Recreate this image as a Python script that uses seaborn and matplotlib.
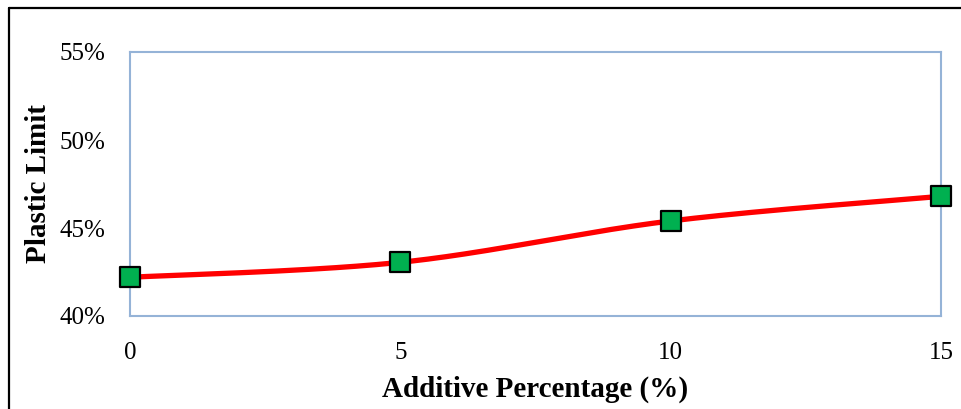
import numpy as np
import pandas as pd
import matplotlib
matplotlib.use("Agg")
import matplotlib.pyplot as plt
import seaborn as sns
from matplotlib.lines import Line2D

# Data
additive_pct = [0, 5, 10, 15]
plastic_limit = [0.422, 0.4305, 0.454, 0.468]
x_ticks = [0, 5, 10, 15]
y_ticks = [0.40, 0.45, 0.50, 0.55]
y_tick_labels = ["40%", "45%", "50%", "55%"]

sns.set_theme(style="white")
plt.rcParams["font.family"] = ["Liberation Serif", "DejaVu Serif"]


def smooth_curve(xs, ys, n=60):
    """Cubic Bezier smoothing through the points (Catmull-Rom style)."""
    xs = np.asarray(xs, float)
    ys = np.asarray(ys, float)
    px = np.concatenate([[xs[0]], xs, [xs[-1]]])
    py = np.concatenate([[ys[0]], ys, [ys[-1]]])
    out_x, out_y = [], []
    t = np.linspace(0, 1, n)
    for i in range(1, len(px) - 2):
        p0 = np.array([px[i], py[i]])
        p3 = np.array([px[i + 1], py[i + 1]])
        c1 = p0 + (np.array([px[i + 1], py[i + 1]]) - np.array([px[i - 1], py[i - 1]])) / 6
        c2 = p3 - (np.array([px[i + 2], py[i + 2]]) - np.array([px[i], py[i]])) / 6
        b = ((1 - t) ** 3)[:, None] * p0 + (3 * (1 - t) ** 2 * t)[:, None] * c1 \
            + (3 * (1 - t) * t ** 2)[:, None] * c2 + (t ** 3)[:, None] * p3
        out_x.extend(b[:, 0])
        out_y.extend(b[:, 1])
    return np.array(out_x), np.array(out_y)


fig = plt.figure(figsize=(9.61, 4.09), dpi=100)
ax = fig.add_axes([130 / 961, 1 - 316 / 409, (941 - 130) / 961, (316 - 52) / 409])

cx, cy = smooth_curve(additive_pct, plastic_limit)
curve = pd.DataFrame({"x": cx, "y": cy})
sns.lineplot(data=curve, x="x", y="y", ax=ax, color="#FF0000", linewidth=3.8,
             sort=False, estimator=None, zorder=2)

pts = pd.DataFrame({"x": additive_pct, "y": plastic_limit})
sns.scatterplot(data=pts, x="x", y="y", ax=ax, marker="s", s=210,
                color="#00B050", edgecolor="black", linewidth=1.6, zorder=3,
                clip_on=False)

ax.set_xlim(0, 15)
ax.set_ylim(0.40, 0.55)
ax.set_xticks(x_ticks)
ax.set_xticklabels([str(v) for v in x_ticks])
ax.set_yticks(y_ticks)
ax.set_yticklabels(y_tick_labels)
ax.tick_params(axis="both", length=0, labelsize=18, colors="black")
ax.tick_params(axis="x", pad=19)
ax.tick_params(axis="y", pad=18)

for spine in ax.spines.values():
    spine.set_visible(True)
    spine.set_color("#95B3D7")
    spine.set_linewidth(1.5)

ax.set_xlabel("Additive Percentage (%)", fontsize=21, fontweight="bold",
              labelpad=8, color="black")
ax.set_ylabel("Plastic Limit", fontsize=21, fontweight="bold",
              labelpad=5, color="black")
ax.grid(False)

# Outer frame (left and top edges)
fig.add_artist(Line2D([9 / 961, 9 / 961], [0, 1 - 8 / 409], color="black", linewidth=1.6,
                      transform=fig.transFigure))
fig.add_artist(Line2D([9 / 961, 1], [1 - 8 / 409, 1 - 8 / 409], color="black", linewidth=1.6,
                      transform=fig.transFigure))

fig.savefig("out.png", dpi=100)
